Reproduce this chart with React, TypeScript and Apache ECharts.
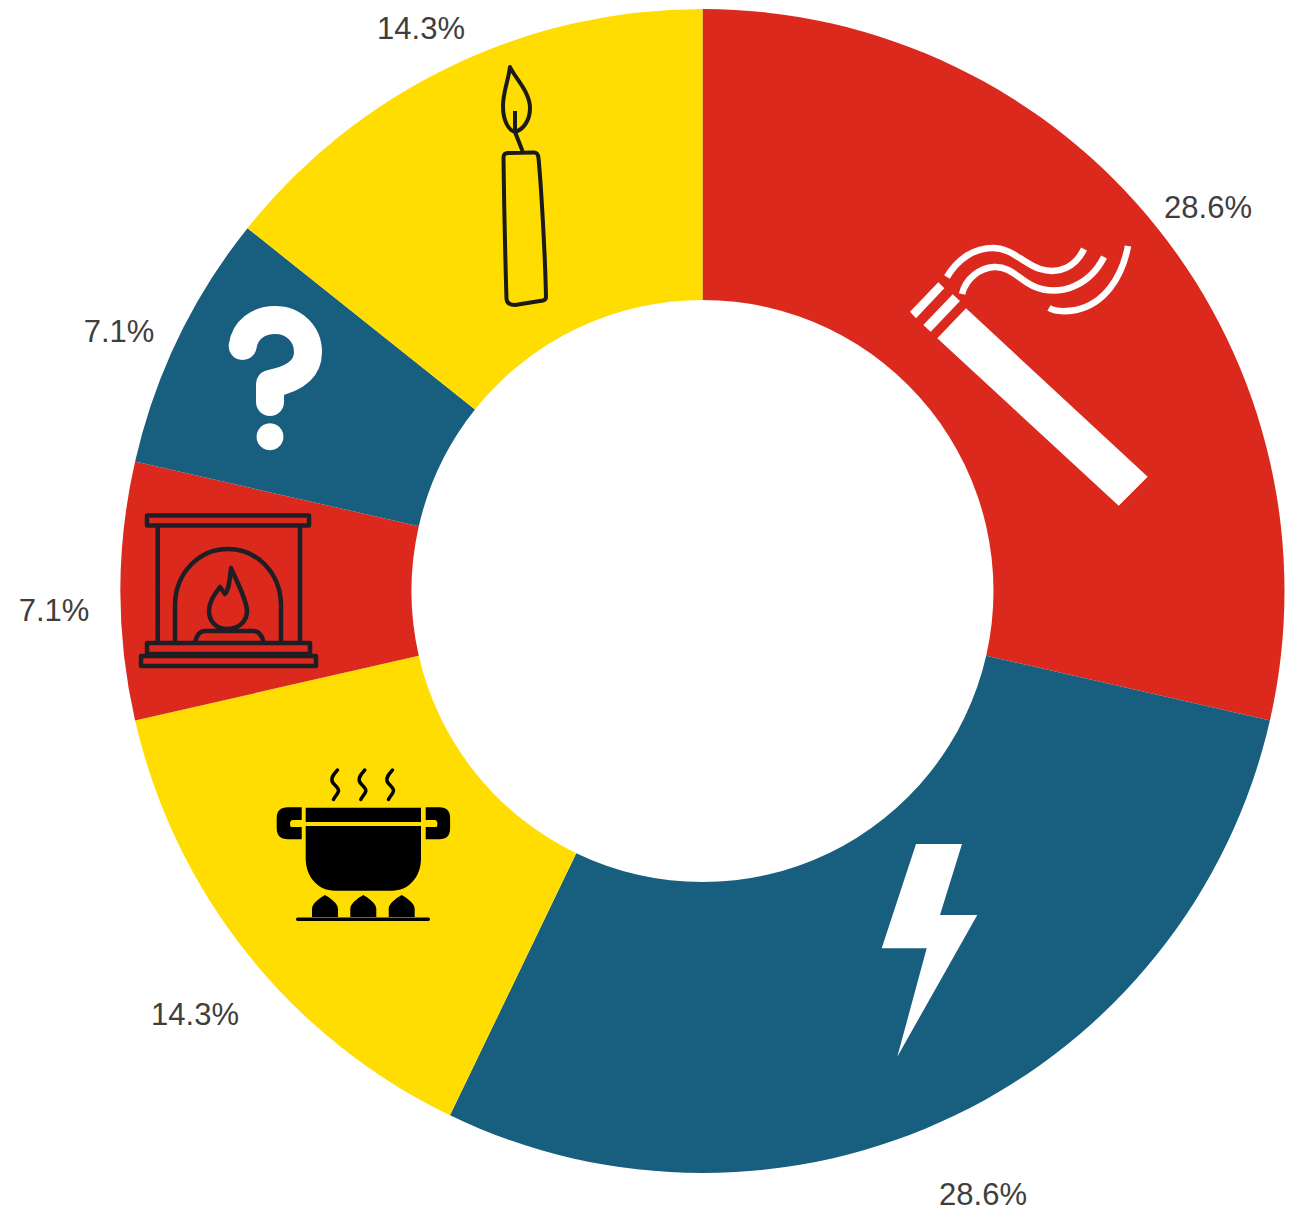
import React, { useEffect, useRef } from "react";
import * as echarts from "echarts";

const categories = ["Smoking", "Electrical", "Cooking", "Fireplace", "Unknown", "Candles"];
const values = [4, 4, 2, 1, 1, 2];
const sliceColors = ["#DB2A1D", "#185E7E", "#FFDD00", "#DB2A1D", "#185E7E", "#FFDD00"];
const labelCentres = [
  [1208, 207],
  [983, 1194],
  [195, 1014],
  [54, 610],
  [119, 331],
  [421, 28],
];

const steam = (dx: number) =>
  `M${337.5 + dx} 770 C${334 + dx} 774 ${331 + dx} 777 ${332 + dx} 781 C${333 + dx} 785 ${339 + dx} 787 ${338.5 + dx} 791 C${338 + dx} 794 ${335 + dx} 796 ${333.5 + dx} 799.5`;
const burner = (cx: number) =>
  `M${cx - 13} 917 V909 C${cx - 13} 903 ${cx - 5} 898 ${cx} 895 C${cx + 5} 898 ${cx + 13} 903 ${cx + 13} 909 V917 Z`;

const iconPaths: Record<string, { d: string; style: any }> = {
  cigFill: {
    d: "M937.3 338.3 L966 308.3 L1147.7 476.7 L1118.7 505.7 Z M910 311.7 L938.3 282.3 L944.3 288.3 L916 318.3 Z M923.3 325 L952.7 294.3 L960 301 L930.7 331.7 Z",
    style: { fill: "#ffffff" },
  },
  cigSmoke: {
    d: "M947 277 C958 258 975 248 993 248 C1012 248 1024 264 1040 269 C1060 275 1076 266 1084 249 M962 294 C966 278 980 268 994 267 C1010 266 1020 280 1033 286 C1060 298 1090 285 1104 257 M1049 308 C1056 312 1064 312 1076 310 C1104 304 1122 278 1128 246",
    style: { fill: "none", stroke: "#ffffff", lineWidth: 6.5 },
  },
  bolt: {
    d: "M916 844 L962 844 L940 915 L977.3 915 L897.3 1056.7 L926.7 948.3 L881.7 948.3 Z",
    style: { fill: "#ffffff" },
  },
  question: {
    d: "M242.7 346 C245 330 258 320 275 320 C294 320 308 334 308 352 C308 372 290 380 270 384 L270 402",
    style: { fill: "none", stroke: "#ffffff", lineWidth: 28, lineCap: "round", lineJoin: "round" },
  },
  fireplace: {
    d: "M147 515.5 H309 V525.5 H147 Z M157.7 525.5 V643 M300 525.5 V643 M175 643 V606 C175 572 200 549 228 549 C256 549 281 572 281 606 V643 M147 643 H310 V654 H147 Z M141 656 H316 V666 H141 Z M231 568 C236 580 247 600 247 611 C247 622 238 629 227 629 C216 629 209 621 209 611 C209 601 215 594 220 587 L225 594 C229 590 230 578 231 568 Z M195 642 C197 634 201 631 205 631 H253 C258 631 262 635 263.5 642",
    style: { fill: "none", stroke: "#1E1E24", lineWidth: 4.5, lineJoin: "round" },
  },
  potFill: {
    d: `M305.7 807.7 H421 V822 H305.7 Z M305.7 826 H421 V858 C421 878 408 890.7 392 890.7 H335 C319 890.7 305.7 878 305.7 858 Z M301.7 807.3 H288 Q276.7 807.3 276.7 818 V828 Q276.7 839.3 288 839.3 H301.7 V827 H291 Q290 827 290 824 Q290 820 293 820 H301.7 Z M425.7 807.3 H439.4 Q450.1 807.3 450.1 818 V828 Q450.1 839.3 439.4 839.3 H425.7 V827 H436.4 Q437.4 827 437.4 824 Q437.4 820 434.4 820 H425.7 Z ${burner(325)} ${burner(363.3)} ${burner(401.7)}`,
    style: { fill: "#000000" },
  },
  potLine: {
    d: `${steam(0)} ${steam(27.3)} ${steam(55)} M297.7 919.3 H428.3`,
    style: { fill: "none", stroke: "#000000", lineWidth: 3.5, lineCap: "round" },
  },
  candle: {
    d: "M503.5 158 C503.5 154 505 153 508 153 L534 152.5 C537 152.5 538 154 538.5 158 C541 185 545 250 546 297 C546 299 545 300 543 300.5 L515 305 C510 305 507 303 506.5 299 C505 250 504 200 503.5 158 Z M510 67 C515 78 530 92 530 108 C530 122 522 130 515 132 C508 130 503 120 503 106 C503 92 508 82 510 67 Z M515 111 V132 L522.5 151",
    style: { fill: "none", stroke: "#1A1A1A", lineWidth: 4, lineJoin: "round" },
  },
};

Object.keys(iconPaths).forEach((name) => {
  echarts.graphic.registerShape(name, echarts.graphic.extendPath(iconPaths[name].d, {}));
});

export default function App() {
  const ref = useRef<HTMLDivElement>(null);
  useEffect(() => {
    if (!ref.current) return;
    const chart = echarts.init(ref.current, undefined, { renderer: "svg" });
    chart.setOption({
      animation: false,
      backgroundColor: "#ffffff",
      graphic: {
        elements: [
          ...Object.keys(iconPaths).map((name) => ({
            type: name,
            x: 0,
            y: 0,
            z: 10,
            silent: true,
            style: iconPaths[name].style,
          })),
          {
            type: "circle",
            z: 10,
            silent: true,
            shape: { cx: 270, cy: 436.7, r: 13.5 },
            style: { fill: "#ffffff" },
          },
        ],
      },
      series: [
        {
          type: "pie",
          center: [702.5, 591],
          radius: [291, 582],
          startAngle: 90,
          clockwise: true,
          percentPrecision: 1,
          avoidLabelOverlap: false,
          silent: true,
          itemStyle: { borderWidth: 0 },
          label: {
            show: true,
            position: "outside",
            formatter: "{d}%",
            fontFamily: "Liberation Sans",
            fontSize: 31,
            color: "#3E3E3E",
          },
          labelLine: { show: false },
          labelLayout: (params: any) => ({
            x: labelCentres[params.dataIndex][0],
            y: labelCentres[params.dataIndex][1],
            align: "center",
            verticalAlign: "middle",
          }),
          data: categories.map((name, i) => ({
            name,
            value: values[i],
            itemStyle: { color: sliceColors[i] },
          })),
        },
      ],
    });
    return () => chart.dispose();
  }, []);
  return (
    <div
      ref={ref}
      style={{ position: "absolute", left: 0, top: 0, width: 1289, height: 1211 }}
    />
  );
}
